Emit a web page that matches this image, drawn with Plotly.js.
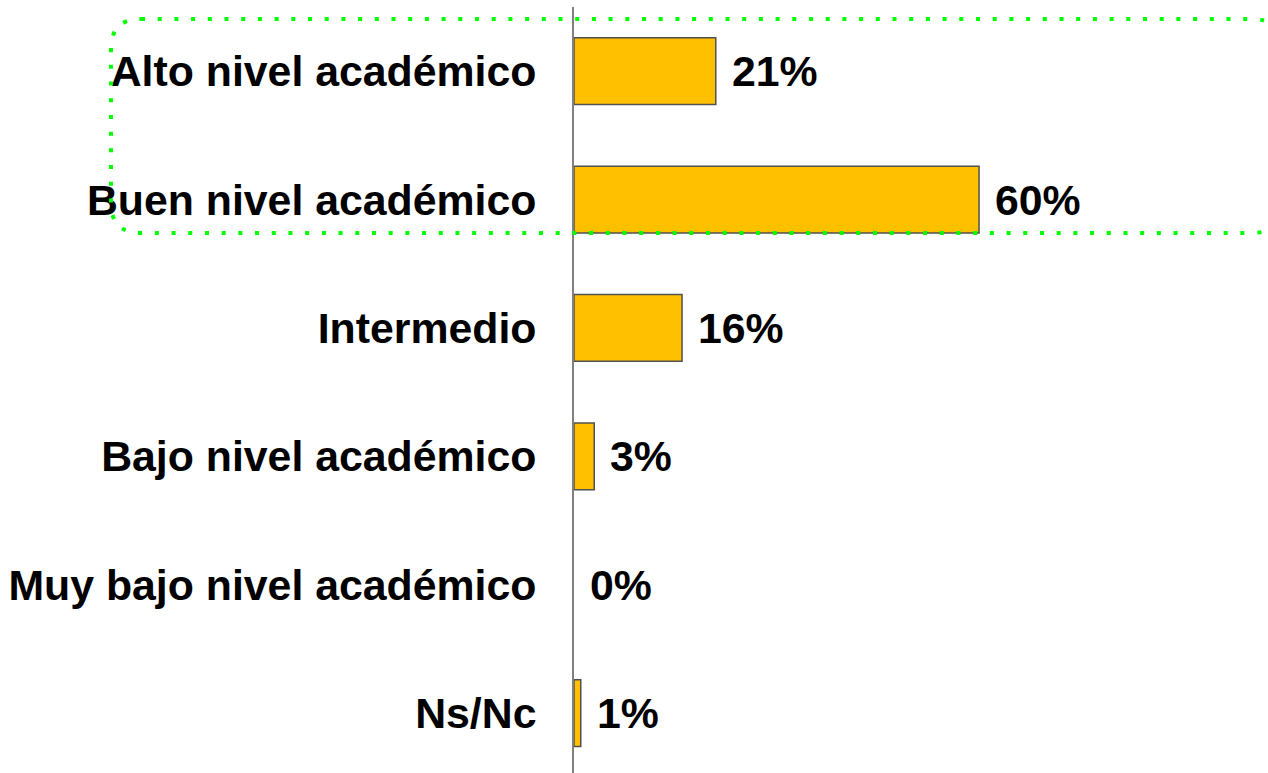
<!DOCTYPE html>
<html>
<head>
<meta charset="utf-8">
<script src="https://cdn.plot.ly/plotly-3.0.1.min.js"></script>
<style>html,body{margin:0;padding:0;background:#fff;}#chart{width:1268px;height:773px;}</style>
</head>
<body>
<div id="chart"></div>
<script>
var categories = ["Alto nivel académico", "Buen nivel académico", "Intermedio", "Bajo nivel académico", "Muy bajo nivel académico", "Ns/Nc"];
var values = [21, 60, 16, 3, 0, 1];
var valueLabels = ["21%", "60%", "16%", "3%", "0%", "1%"];

var W = 1268, H = 773;
var M = {l: 574, r: 0, t: 7, b: 0};
var PW = W - M.l - M.r, PH = H - M.t - M.b;
function px(x) { return ((x - M.l) / PW).toFixed(5); }
function py(y) { return (1 - (y - M.t) / PH).toFixed(5); }

// rounded dotted highlight box (pixel geometry converted to paper coords)
var L = 111, R = 1282, T = 19, B = 233, r = 30;
var path = 'M ' + px(L + r) + ',' + py(T) +
  ' L ' + px(R - r) + ',' + py(T) +
  ' Q ' + px(R) + ',' + py(T) + ' ' + px(R) + ',' + py(T + r) +
  ' L ' + px(R) + ',' + py(B - r) +
  ' Q ' + px(R) + ',' + py(B) + ' ' + px(R - r) + ',' + py(B) +
  ' L ' + px(L + r) + ',' + py(B) +
  ' Q ' + px(L) + ',' + py(B) + ' ' + px(L) + ',' + py(B - r) +
  ' L ' + px(L) + ',' + py(T + r) +
  ' Q ' + px(L) + ',' + py(T) + ' ' + px(L + r) + ',' + py(T) + ' Z';

var font = {family: '"Liberation Sans", Arial, sans-serif', size: 42.8, color: '#000000'};

var annotations = categories.map(function (c, i) {
  return {
    x: values[i], y: c, xref: 'x', yref: 'y',
    text: '<b>' + valueLabels[i] + '</b>',
    showarrow: false, xanchor: 'left', yanchor: 'middle', xshift: 14,
    font: font
  };
});

var trace = {
  type: 'bar', orientation: 'h',
  x: values, y: categories,
  width: 0.52,
  marker: {color: '#FFC000', line: {color: '#505050', width: values.map(function (v) { return v > 0 ? 1.5 : 0; })}},
  hoverinfo: 'none'
};

var layout = {
  width: W, height: H,
  margin: M,
  paper_bgcolor: '#ffffff', plot_bgcolor: '#ffffff',
  showlegend: false,
  font: font,
  xaxis: {range: [0, 102.8], visible: false, fixedrange: true},
  yaxis: {
    type: 'category',
    range: [5.467, -0.5],
    showline: true, linecolor: '#808080', linewidth: 2,
    showgrid: false, zeroline: false, ticks: '',
    ticklabelstandoff: 27,
    tickfont: {family: '"Liberation Sans", Arial, sans-serif', size: 42.8, color: '#000000', weight: 'bold'},
    fixedrange: true
  },
  annotations: annotations,
  shapes: [{
    type: 'path', xref: 'paper', yref: 'paper', layer: 'above',
    path: path,
    line: {color: '#00FF00', width: 4, dash: '4px,12.7px'}
  }]
};

Plotly.newPlot('chart', [trace], layout, {staticPlot: true, displayModeBar: false});
</script>
</body>
</html>
